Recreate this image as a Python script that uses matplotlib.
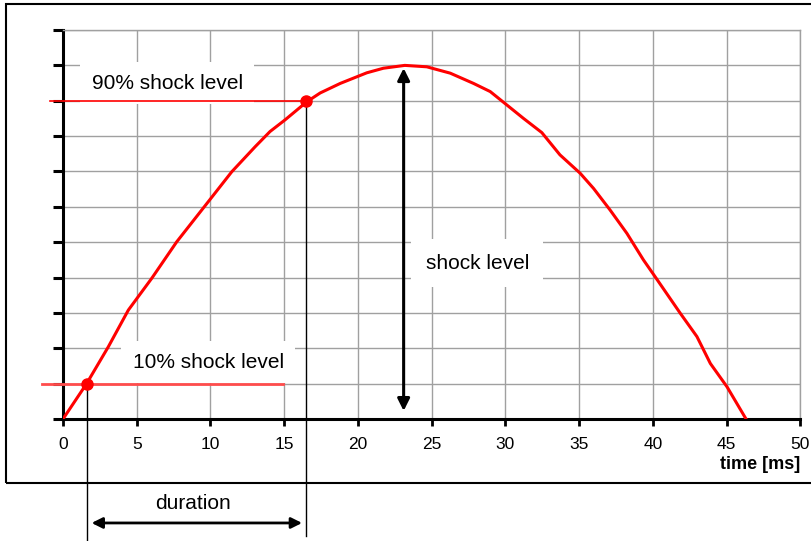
import matplotlib
matplotlib.use('Agg')
import matplotlib.pyplot as plt
from matplotlib.patches import Rectangle

plt.rcParams['font.family'] = ['Liberation Sans', 'DejaVu Sans']

# half-sine shock pulse
t_ms = [0, 1.6, 3.07, 4.43, 6.02, 7.71, 9.86, 11.44, 13.03, 14.04, 15.06, 16.53,
        17.44, 18.8, 20.6, 21.73, 23.18, 24.67, 26.26, 27.84, 28.97, 30.1, 31.23,
        32.47, 33.7, 35.07, 35.98, 37.1, 38.24, 39.36, 40.16, 41.86, 42.99, 43.9,
        45.03, 46.32]
level = [0, 1.0, 2.04, 3.08, 3.98, 5.01, 6.15, 6.99, 7.7, 8.13, 8.46, 8.97,
         9.22, 9.49, 9.79, 9.92, 10.0, 9.96, 9.78, 9.49, 9.26, 8.88, 8.5,
         8.1, 7.47, 6.95, 6.52, 5.91, 5.25, 4.5, 4.02, 2.99, 2.33, 1.57,
         0.91, 0.0]

t10, v10 = 1.6, 1.0
t90, v90 = 16.5, 9.0
t_peak, v_peak = 23.1, 10.0

xticks = [0, 5, 10, 15, 20, 25, 30, 35, 40, 45, 50]

fig = plt.figure(figsize=(8.12, 5.41), dpi=100)
ax = fig.add_axes([0.0776, 0.2255, 0.908, 0.719])

# outer frame
fig.patches.append(Rectangle((0.0074, 0.107), 1.1, 0.8865, transform=fig.transFigure,
                             fill=False, ec='black', lw=1.5, clip_on=False))

ax.set_xlim(0, 50)
ax.set_ylim(0, 11)
ax.set_xticks(xticks)
ax.set_yticks(range(0, 12))
ax.set_yticklabels([])
ax.grid(True, color='#a0a0a0', lw=1)
ax.set_axisbelow(True)
ax.tick_params(axis='x', direction='out', length=5, width=2, labelsize=12.5, pad=8)
ax.tick_params(axis='y', direction='out', length=7, width=2.2)
for s in ['left', 'bottom']:
    ax.spines[s].set_linewidth(2.2)
    ax.spines[s].set_color('black')
for s in ['top', 'right']:
    ax.spines[s].set_linewidth(1)
    ax.spines[s].set_color('#a0a0a0')

fig.text(0.9858, 0.1405, 'time [ms]', ha='right', va='center', fontsize=13, fontweight='bold')

# 10% / 90% reference lines (drawn over the label boxes)
ax.plot([-1.4, 14.9], [v10, v10], color='#ff4c4c', lw=2, clip_on=False, zorder=3.5)
ax.plot([-0.9, t90], [v90, v90], color='red', lw=1.2, clip_on=False, zorder=3.5)

# the pulse
ax.plot(t_ms, level, color='red', lw=2.2, zorder=4)
ax.plot([t10, t90], [v10, v90], 'o', color='red', ms=8, zorder=5)

# drop lines for duration
ax.plot([t10, t10], [v10, -3.6], color='black', lw=1, clip_on=False, zorder=4)
ax.plot([t90, t90], [v90, -3.31], color='black', lw=1, clip_on=False, zorder=4)

# shock level arrow
ax.annotate('', xy=(t_peak, v_peak), xytext=(t_peak, 0.15),
            arrowprops=dict(arrowstyle='<|-|>', color='black', lw=2.2, mutation_scale=18))
# duration arrow
ax.annotate('', xy=(t10 + 0.15, -2.94), xytext=(t90 - 0.1, -2.94), annotation_clip=False,
            arrowprops=dict(arrowstyle='<|-|>', color='black', lw=2, mutation_scale=16))

box = dict(boxstyle='square,pad=0.55', fc='white', ec='none')
ax.text(7.06, 9.5, '90% shock level', fontsize=15, ha='center', va='center', bbox=box, zorder=3)
ax.text(9.84, 1.61, '10% shock level', fontsize=15, ha='center', va='center', bbox=box, zorder=3)
ax.text(28.09, 4.41, 'shock level', fontsize=15, ha='center', va='center',
        bbox=dict(boxstyle='square,pad=0.7', fc='white', ec='none'), zorder=3)
ax.text(8.82, -2.40, 'duration', fontsize=15, ha='center', va='center', clip_on=False)

fig.savefig('out.png', dpi=100)
